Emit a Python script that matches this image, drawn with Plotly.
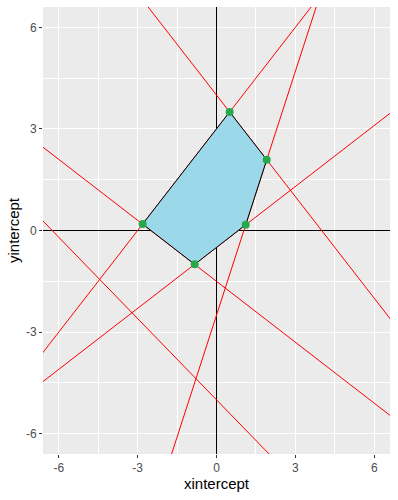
import numpy as np
import plotly.graph_objects as go

# Red constraint lines: y = slope * x + intercept
slopes = [1.0, -1.0, 2.4, 0.6, -0.6, -0.8]
intercepts = [3.0, 4.0, -2.5, -0.5, -1.5, -5.0]

# Feasible region vertices
vert_x = [-2.81, 0.50, 1.91, 1.11, -0.83]
vert_y = [0.19, 3.50, 2.09, 0.17, -1.00]

tick_vals = [-6, -3, 0, 3, 6]
tick_text = ["-6", "-3", "0", "3", "6"]

fig = go.Figure()

xs = np.array([-20.0, 20.0])
for m, b in zip(slopes, intercepts):
    fig.add_trace(go.Scatter(x=xs, y=m * xs + b, mode="lines",
                             line=dict(color="#FF0000", width=1),
                             hoverinfo="skip", showlegend=False))

fig.add_trace(go.Scatter(x=vert_x + [vert_x[0]], y=vert_y + [vert_y[0]],
                         mode="lines", fill="toself", fillcolor="#9AD8EA",
                         line=dict(color="black", width=1),
                         showlegend=False))

fig.add_trace(go.Scatter(x=vert_x, y=vert_y, mode="markers",
                         marker=dict(color="#27A84B", size=8),
                         showlegend=False))

axis_common = dict(
    range=[-6.6, 6.6],
    tickvals=tick_vals, ticktext=tick_text,
    ticks="outside", ticklen=3, tickcolor="#333333", tickwidth=1,
    tickfont=dict(family="Liberation Sans, Arial, sans-serif", size=12, color="#4D4D4D"),
    showgrid=True, gridcolor="white", gridwidth=1.1,
    minor=dict(dtick=1.5, tick0=0, showgrid=True, gridcolor="white", gridwidth=0.5),
    zeroline=True, zerolinecolor="black", zerolinewidth=1,
    showline=False, automargin=False,
)

fig.update_layout(
    width=398, height=500,
    margin=dict(l=43, r=8, t=7, b=46),
    paper_bgcolor="white", plot_bgcolor="#EBEBEB",
    xaxis=dict(axis_common, title=dict(text="xintercept", standoff=4,
               font=dict(family="Liberation Sans, Arial, sans-serif", size=15, color="black"))),
    yaxis=dict(axis_common, title=dict(text="yintercept", standoff=2,
               font=dict(family="Liberation Sans, Arial, sans-serif", size=15, color="black"))),
)

fig.write_html("out.html", config={"displayModeBar": False},
               post_script="document.body.style.margin='0px';document.body.style.overflow='hidden';")
